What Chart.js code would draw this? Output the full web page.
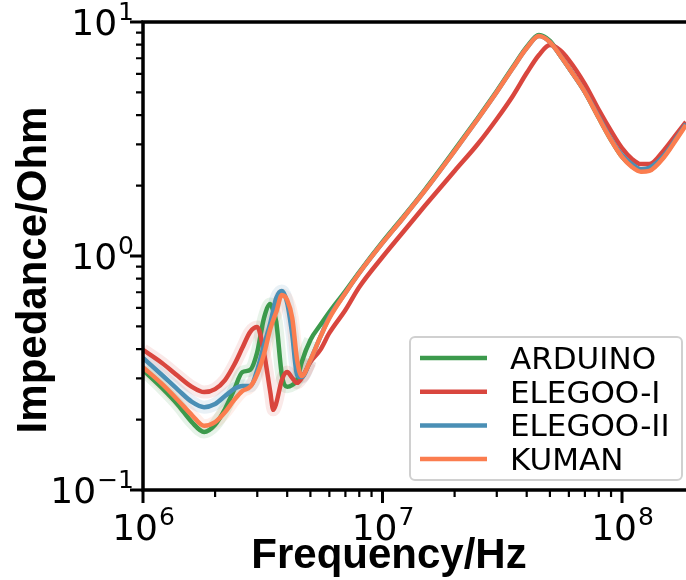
<!DOCTYPE html>
<html>
<head>
<meta charset="utf-8">
<script src="https://cdn.jsdelivr.net/npm/chart.js@4.4.1/dist/chart.umd.min.js"></script>
<style>
  html, body { margin: 0; padding: 0; background: #fff; }
  canvas { display: block; }
</style>
</head>
<body>
<canvas id="myChart" width="686" height="580"></canvas>
<script>
// frequency in Hz (shared by all series)
const freqs = [1.0e6, 1.2e6, 1.4e6, 1.6e6, 1.8e6, 2.0e6, 2.2e6, 2.4e6, 2.6e6, 2.8e6,
  3.0e6, 3.2e6, 3.4e6, 3.5e6, 3.6e6, 3.8e6, 4.0e6, 4.2e6, 4.4e6, 4.6e6, 5.0e6, 5.5e6, 6e6,
  7e6, 8e6, 10e6, 12e6, 15e6, 20e6, 25e6, 30e6, 35e6, 40e6, 45e6, 50e6, 55e6, 60e6,
  70e6, 80e6, 90e6, 100e6, 110e6, 120e6, 130e6, 150e6, 170e6, 185e6];

// impedance in Ohm
const arduino = [0.326, 0.273, 0.231, 0.195, 0.177, 0.190, 0.222, 0.268, 0.319, 0.326,
  0.389, 0.543, 0.624, 0.582, 0.523, 0.310, 0.276, 0.281, 0.295, 0.352, 0.438, 0.507, 0.576,
  0.708, 0.854, 1.148, 1.439, 1.914, 2.84, 3.89, 5.07, 6.42, 7.82, 8.80, 8.30, 7.23, 6.36,
  5.02, 3.89, 3.13, 2.65, 2.42, 2.31, 2.33, 2.68, 3.23, 3.67];
const elegoo1 = [0.397, 0.349, 0.307, 0.276, 0.262, 0.270, 0.295, 0.342, 0.405, 0.473,
  0.497, 0.385, 0.262, 0.220, 0.235, 0.295, 0.319, 0.301, 0.287, 0.301, 0.352, 0.397, 0.469,
  0.588, 0.737, 0.990, 1.242, 1.635, 2.31, 3.01, 3.85, 4.83, 6.05, 7.23, 7.97, 7.59, 6.88,
  5.43, 4.21, 3.42, 2.89, 2.60, 2.47, 2.47, 2.84, 3.35, 3.74];
const elegoo2 = [0.367, 0.310, 0.268, 0.238, 0.226, 0.233, 0.252, 0.270, 0.278, 0.278,
  0.326, 0.417, 0.517, 0.588, 0.661, 0.708, 0.630, 0.460, 0.310, 0.304, 0.359, 0.451, 0.549,
  0.695, 0.846, 1.137, 1.425, 1.896, 2.81, 3.85, 5.02, 6.36, 7.74, 8.71, 8.21, 7.23, 6.36,
  5.02, 3.93, 3.16, 2.70, 2.47, 2.35, 2.38, 2.70, 3.23, 3.67];
const kuman = [0.335, 0.284, 0.242, 0.209, 0.188, 0.195, 0.215, 0.242, 0.265, 0.276,
  0.313, 0.381, 0.488, 0.533, 0.576, 0.681, 0.648, 0.543, 0.359, 0.307, 0.359, 0.451, 0.543,
  0.695, 0.846, 1.137, 1.425, 1.896, 2.81, 3.85, 5.02, 6.36, 7.74, 8.71, 8.21, 7.23, 6.36,
  5.02, 3.89, 3.13, 2.65, 2.40, 2.29, 2.31, 2.65, 3.19, 3.63];

const seriesNames = ["ARDUINO", "ELEGOO-I", "ELEGOO-II", "KUMAN"];
const seriesColors = ["#3c9a4c", "#d9463e", "#4a8fb5", "#fb7d4f"];
const seriesBands = ["rgba(60,154,76,0.12)", "rgba(217,70,62,0.12)", "rgba(74,143,181,0.12)", "rgba(251,125,79,0.12)"];

// axis ticks
const xMajor = [1e6, 1e7, 1e8];
const xExp = ["6", "7", "8"];
const xMinor = [2e6, 3e6, 4e6, 5e6, 6e6, 7e6, 8e6, 9e6, 2e7, 3e7, 4e7, 5e7, 6e7, 7e7, 8e7, 9e7];
const yMajor = [0.1, 1, 10];
const yExp = ["\u22121", "0", "1"];
const yMinor = [0.2, 0.3, 0.4, 0.5, 0.6, 0.7, 0.8, 0.9, 2, 3, 4, 5, 6, 7, 8, 9];

const allSeries = [arduino, elegoo1, elegoo2, kuman];

const points = (vals) => freqs.map((f, i) => ({ x: f, y: vals[i] }));

const datasets = [];
allSeries.forEach((vals, i) => {
  datasets.push({
    label: seriesNames[i],
    data: points(vals),
    borderColor: seriesColors[i],
    borderWidth: 4.5,
    order: 3 - i,
  });
});
// light spread band at low frequency
allSeries.forEach((vals, i) => {
  datasets.push({
    label: "_band" + i,
    data: points(vals),
    borderColor: seriesBands[i],
    borderWidth: 13,
    order: 10 + i,
    segment: {
      borderColor: (c) => (c.p0.parsed.x < 4.8e6 ? seriesBands[i] : "rgba(0,0,0,0)"),
    },
  });
});

function drawPow(ctx, exp, x, base, align) {
  ctx.font = "36px 'DejaVu Sans'";
  const wb = ctx.measureText("10").width;
  ctx.font = "25px 'DejaVu Sans'";
  const ws = ctx.measureText(exp).width;
  let x0 = align === "center" ? x - (wb + ws) / 2 : x - wb - ws;
  ctx.textAlign = "left";
  ctx.textBaseline = "alphabetic";
  ctx.font = "36px 'DejaVu Sans'";
  ctx.fillText("10", x0, base);
  ctx.font = "25px 'DejaVu Sans'";
  ctx.fillText(exp, x0 + wb + 1, base - 15);
}

const axesPlugin = {
  id: "axesPlugin",
  afterDraw(chart) {
    const { ctx, chartArea: a, scales } = chart;
    const xs = scales.x, ys = scales.y;
    ctx.save();
    ctx.strokeStyle = "#000";
    ctx.fillStyle = "#000";
    ctx.lineWidth = 3.5;
    ctx.beginPath();
    ctx.moveTo(a.right + 2, a.top);
    ctx.lineTo(a.left, a.top);
    ctx.lineTo(a.left, a.bottom);
    ctx.lineTo(a.right + 2, a.bottom);
    ctx.stroke();

    ctx.lineWidth = 3;
    ctx.beginPath();
    xMajor.forEach((v) => { const p = xs.getPixelForValue(v); ctx.moveTo(p, a.bottom); ctx.lineTo(p, a.bottom + 13); });
    yMajor.forEach((v) => { const p = ys.getPixelForValue(v); ctx.moveTo(a.left, p); ctx.lineTo(a.left - 13, p); });
    ctx.stroke();
    ctx.lineWidth = 2.2;
    ctx.beginPath();
    xMinor.forEach((v) => { const p = xs.getPixelForValue(v); ctx.moveTo(p, a.bottom); ctx.lineTo(p, a.bottom + 7); });
    yMinor.forEach((v) => { const p = ys.getPixelForValue(v); ctx.moveTo(a.left, p); ctx.lineTo(a.left - 7, p); });
    ctx.stroke();

    xMajor.forEach((v, i) => drawPow(ctx, xExp[i], xs.getPixelForValue(v), a.bottom + 50, "center"));
    yMajor.forEach((v, i) => drawPow(ctx, yExp[i], a.left - 10, ys.getPixelForValue(v) + 13, "right"));

    // axis titles
    ctx.font = "bold 42px 'Liberation Sans'";
    ctx.textAlign = "center";
    ctx.textBaseline = "alphabetic";
    ctx.fillText("Frequency/Hz", 389, 568);
    ctx.save();
    ctx.translate(46, 270);
    ctx.rotate(-Math.PI / 2);
    ctx.fillText("Impedance/Ohm", 0, 0);
    ctx.restore();

    // legend
    ctx.beginPath();
    ctx.roundRect(410, 337, 272, 143, 5);
    ctx.fillStyle = "rgba(255,255,255,0.85)";
    ctx.fill();
    ctx.strokeStyle = "#d0d0d0";
    ctx.lineWidth = 2;
    ctx.stroke();
    ctx.font = "31px 'DejaVu Sans'";
    ctx.textAlign = "left";
    seriesNames.forEach((name, i) => {
      const yy = 358 + i * 33.7;
      ctx.strokeStyle = seriesColors[i];
      ctx.lineWidth = 4.5;
      ctx.beginPath();
      ctx.moveTo(420, yy);
      ctx.lineTo(487, yy);
      ctx.stroke();
      ctx.fillStyle = "#000";
      ctx.fillText(name, 510, yy + 11);
    });
    ctx.restore();
  },
};

new Chart(document.getElementById("myChart").getContext("2d"), {
  type: "line",
  data: { datasets: datasets },
  options: {
    responsive: false,
    animation: false,
    layout: { padding: { left: 143, right: 0, top: 22, bottom: 90 } },
    elements: { point: { radius: 0 }, line: { cubicInterpolationMode: "monotone" } },
    plugins: { legend: { display: false }, tooltip: { enabled: false } },
    scales: {
      x: { type: "logarithmic", min: 1e6, max: 1.85e8, display: false },
      y: { type: "logarithmic", min: 0.1, max: 10, display: false },
    },
  },
  plugins: [axesPlugin],
});
</script>
</body>
</html>
